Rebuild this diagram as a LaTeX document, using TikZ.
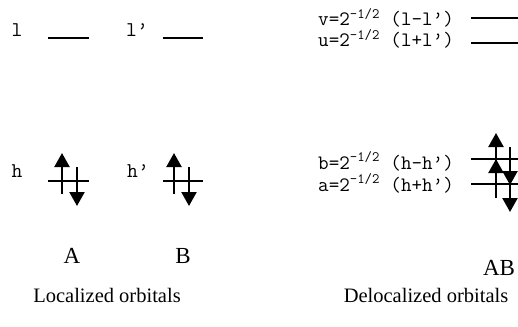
\documentclass[tikz,border=0pt]{standalone}
\usepackage{fontspec}
\setmainfont{Liberation Serif}
\usetikzlibrary{arrows.meta,positioning}

\begin{document}
\begin{tikzpicture}[x=1pt,y=-1pt,
		>={Triangle[length=14pt,width=15pt]},
		orbnode/.style={font=\fontsize{21}{21}\ttfamily,inner sep=0pt,anchor=base},
		eqnode/.style={font=\fontsize{20.5}{20.5}\ttfamily,inner sep=0pt,anchor=base west},
		sysnode/.style={font=\fontsize{23}{23}\selectfont,inner sep=0pt,anchor=base},
		titlenode/.style={font=\fontsize{20.5}{20.5}\selectfont,inner sep=0pt,anchor=base},
		levelline/.style={line width=1.8pt},
		spinarrow/.style={->,line width=2.2pt}]
		\useasboundingbox (0,0) rectangle (518,326);

		% localized orbitals
		\node[orbnode] (l) at (17,37) {l};
		\draw[levelline] (48,38) -- (89,38);
		\node[orbnode] (lp) at (137,37) {l’};
		\draw[levelline] (163,38) -- (203,38);

		\node[orbnode] (h) at (17,177) {h};
		\begin{scope}[shift={(69,181)}]
			\draw[levelline] (-21,0) -- (20,0);
			\draw[spinarrow] (-7,13) -- (-7,-28);
			\draw[spinarrow] (8,-14) -- (8,25);
		\end{scope}
		\node[orbnode] (hp) at (138,177) {h’};
		\begin{scope}[shift={(182,181)}]
			\draw[levelline] (-19,0) -- (21,0);
			\draw[spinarrow] (-8,13) -- (-8,-28);
			\draw[spinarrow] (7,-14) -- (7,25);
		\end{scope}

		\node[sysnode] (A) at (72,263) {A};
		\node[sysnode] (B) at (183,263) {B};
		\node[titlenode] (loc) at (107,302) {Localized orbitals};

		% delocalized orbitals
		\node[eqnode] (v) at (318,26) {v=2\textsuperscript{-1/2} (l-l’)};
		\draw[levelline] (471,18) -- (518,18);
		\node[eqnode] (u) at (318,47) {u=2\textsuperscript{-1/2} (l+l’)};
		\draw[levelline,line width=2.4pt] (471,43) -- (518,43);

		\node[eqnode] (b) at (318,169) {b=2\textsuperscript{-1/2} (h-h’)};
		\node[eqnode] (a) at (318,191) {a=2\textsuperscript{-1/2} (h+h’)};
		\begin{scope}[shift={(496,159)}]
			\draw[levelline] (-25,0) -- (22,0);
			\draw[spinarrow] (0,13) -- (0,-26);
			\draw[spinarrow] (14,-12) -- (14,26);
		\end{scope}
		\begin{scope}[shift={(496,184)}]
			\draw[levelline] (-25,0) -- (22,0);
			\draw[spinarrow] (0,14) -- (0,-25);
			\draw[spinarrow] (14,-12) -- (14,28);
		\end{scope}

		\node[sysnode] (AB) at (499,275) {AB};
		\node[titlenode] (deloc) at (426,302) {Delocalized orbitals};
	\end{tikzpicture}
\end{document}
